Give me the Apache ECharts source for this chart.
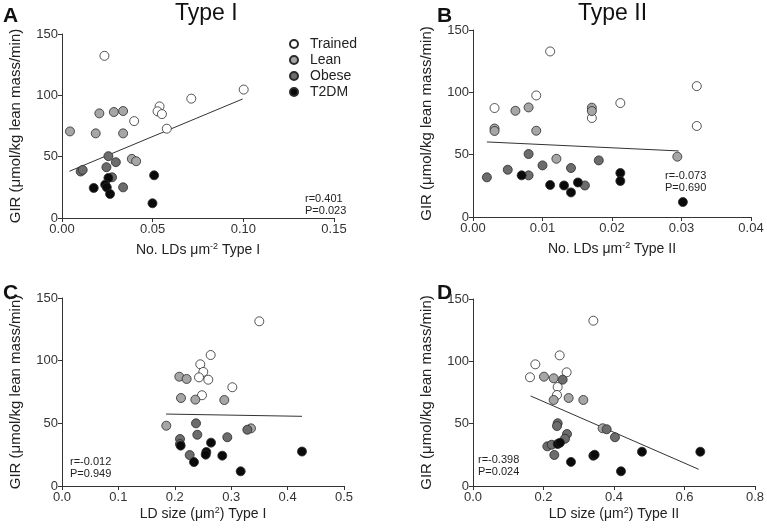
<!DOCTYPE html>
<html><head><meta charset="utf-8">
<script src="https://cdn.jsdelivr.net/npm/echarts@6/dist/echarts.min.js"></script>
<style>html,body{margin:0;padding:0;background:#fff}#c{width:767px;height:530px}</style>
</head><body><div id="c"></div>
<script>
// ---------- data ----------
const groups = ['Trained', 'Lean', 'Obese', 'T2DM'];
const yTicks = [0, 50, 100, 150];

// Panel A: No. LDs µm^-2 Type I vs GIR
const aTrained = [[0.0234,132.2],[0.1002,104.7],[0.0713,97.3],[0.0538,91],[0.0527,87],[0.0551,84.7],[0.0398,79],[0.0578,72.8]];
const aLean    = [[0.0044,70.6],[0.0206,85.3],[0.0286,86.4],[0.0337,87.2],[0.0186,69],[0.0337,69],[0.0385,48.2],[0.0409,46.3]];
const aObese   = [[0.0103,37.9],[0.0114,39.2],[0.0256,50.4],[0.0297,45.5],[0.0245,41.4],[0.0276,33.2],[0.0337,25]];
const aT2DM    = [[0.0175,24.5],[0.0256,32.7],[0.0238,27.2],[0.0247,25],[0.0265,19.6],[0.0508,34.8],[0.0499,12]];
const aFit     = [[0.0041,38.1],[0.0996,97]];

// Panel B: No. LDs µm^-2 Type II vs GIR
const bTrained = [[0.0031,87.4],[0.0091,97.5],[0.0111,132.8],[0.0171,79.4],[0.0212,91.4],[0.0322,105],[0.0322,73]];
const bLean    = [[0.0031,71],[0.0031,69],[0.0061,85.2],[0.008,87.9],[0.0091,69.2],[0.012,46.7],[0.0171,87.7],[0.0171,85],[0.0294,48.4]];
const bObese   = [[0.002,31.8],[0.005,37.9],[0.008,50.5],[0.008,33.4],[0.01,41.4],[0.0141,39.3],[0.0161,25.3],[0.0181,45.4]];
const bT2DM    = [[0.007,33.4],[0.0111,25.7],[0.0131,25.3],[0.0141,19.7],[0.0151,27.7],[0.0212,35.3],[0.0212,28.9],[0.0302,12]];
const bFit     = [[0.002,60.2],[0.0296,53.0]];

// Panel C: LD size Type I vs GIR
const cTrained = [[0.3498,131.4],[0.2636,104.5],[0.2452,97.1],[0.2505,91],[0.2429,86.7],[0.2594,84.8],[0.302,78.8],[0.2482,72.4]];
const cLean    = [[0.208,87.2],[0.221,85.4],[0.211,70.2],[0.2364,68.9],[0.2878,68.6],[0.1849,48.1],[0.3351,46]];
const cObese   = [[0.2376,50],[0.2399,40.9],[0.2092,37.5],[0.2092,33.5],[0.2931,38.9],[0.2264,24.7],[0.3286,44.9]];
const cT2DM    = [[0.2104,32.2],[0.2642,34.6],[0.2559,27.1],[0.2548,25],[0.2842,24.2],[0.234,19.1],[0.3168,11.7],[0.4255,27.5]];
const cFit     = [[0.1844,57.4],[0.4255,55.6]];

// Panel D: LD size Type II vs GIR
const dTrained = [[0.3414,132.6],[0.2459,104.8],[0.1768,97.6],[0.1617,87.2],[0.2657,91.2],[0.2402,79.4],[0.2383,73]];
const dLean    = [[0.2014,87.7],[0.2289,86.4],[0.2289,69],[0.2714,70.6],[0.313,69],[0.3678,46.3]];
const dObese   = [[0.2544,85.3],[0.2402,50.3],[0.2383,48.1],[0.2667,41.7],[0.261,37.9],[0.2109,31.8],[0.2232,33.1],[0.2307,24.9],[0.3792,45.5],[0.4028,39.1]];
const dT2DM    = [[0.2402,33.7],[0.2468,34.7],[0.278,19.3],[0.3414,24.3],[0.3452,25.1],[0.4199,11.8],[0.4794,27.5],[0.6449,27.5]];
const dFit     = [[0.1636,72.2],[0.6402,13.4]];

const xMax = [0.15, 0.04, 0.5, 0.8];
const xStep = [0.05, 0.01, 0.1, 0.2];
const xDecimals = [2, 2, 1, 1];
const xTitles = ['No. LDs \u03bcm{sup|-2} Type I', 'No. LDs \u03bcm{sup|-2} Type II', 'LD size (\u03bcm{sup|2}) Type I', 'LD size (\u03bcm{sup|2}) Type II'];
const yTitle = 'GIR (\u03bcmol/kg lean mass/min)';
const stats = [['r=0.401','P=0.023'],['r=-0.073','P=0.690'],['r=-0.012','P=0.949'],['r=-0.398','P=0.024']];
const panelLetters = ['A','B','C','D'];
const columnTitles = ['Type I','Type II'];

// ---------- chart ----------
const FONT = '"Liberation Sans", Arial, sans-serif';
const fills = {Trained:'#ffffff', Lean:'#a6a6a6', Obese:'#6c6c6c', T2DM:'#0a0a0a'};
const panelData = [
  [aTrained, aLean, aObese, aT2DM, aFit],
  [bTrained, bLean, bObese, bT2DM, bFit],
  [cTrained, cLean, cObese, cT2DM, cFit],
  [dTrained, dLean, dObese, dT2DM, dFit]
];
const grids = [
  {left:62, top:34, width:272, height:184},
  {left:473, top:30, width:278, height:187},
  {left:62, top:298, width:282, height:188},
  {left:473, top:299, width:282, height:187}
];
const yGap = [39, 39, 39, 39];
const xGap = [24, 24, 20, 20];

const xAxes = [], yAxes = [], series = [];
grids.forEach((g, i) => {
  xAxes.push({
    type:'value', gridIndex:i, min:0, max:xMax[i], interval:xStep[i],
    name: xTitles[i], nameLocation:'middle', nameGap:xGap[i],
    nameTextStyle:{fontFamily:FONT, fontSize:14, color:'#222',
      rich:{sup:{fontFamily:FONT, fontSize:9, color:'#222', verticalAlign:'top', padding:[0,0,8,0]}}},
    splitLine:{show:false},
    axisLine:{lineStyle:{color:'#333', width:1}},
    axisTick:{show:true, length:4, lineStyle:{color:'#333'}},
    axisLabel:{fontFamily:FONT, fontSize:13, color:'#333', margin:5,
      formatter: v => v.toFixed(xDecimals[i])}
  });
  yAxes.push({
    type:'value', gridIndex:i, min:0, max:150, interval:50,
    name: yTitle, nameLocation:'middle', nameGap:yGap[i], nameRotate:90,
    nameTextStyle:{fontFamily:FONT, fontSize:15, color:'#222'},
    splitLine:{show:false},
    axisLine:{show:true, lineStyle:{color:'#333', width:1}},
    axisTick:{show:true, length:4, lineStyle:{color:'#333'}},
    axisLabel:{fontFamily:FONT, fontSize:13, color:'#333', margin:4,
      formatter: v => yTicks.includes(v) ? String(v) : ''}
  });
  const d = panelData[i];
  series.push({
    type:'line', xAxisIndex:i, yAxisIndex:i, data:d[4], symbol:'none',
    lineStyle:{color:'#333', width:1}, z:1, silent:true
  });
  groups.forEach((gName, k) => {
    series.push({
      type:'scatter', name:gName, xAxisIndex:i, yAxisIndex:i, data:d[k],
      symbol:'circle', symbolSize:9, z:2 + k,
      itemStyle:{color:fills[gName], borderColor:'#2a2a2a', borderWidth:0.8, opacity:1}
    });
  });
});

const statPos = [[305,193],[665,170],[70,456],[478,454]];
const letterPos = [[3,6],[437,6],[3,283],[437,283]];
const graphics = [];
stats.forEach((s, i) => {
  graphics.push({type:'text', left:statPos[i][0], top:statPos[i][1],
    style:{text:s.join('\n'), font:'11px ' + FONT, fill:'#222', lineHeight:12}});
});
panelLetters.forEach((L, i) => {
  graphics.push({type:'text', left:letterPos[i][0], top:letterPos[i][1],
    style:{text:L, font:'bold 21px ' + FONT, fill:'#111'}});
});
const titlePos = [[175,2],[578,2]];
columnTitles.forEach((t, i) => {
  graphics.push({type:'text', left:titlePos[i][0], top:titlePos[i][1],
    style:{text:t, font:'23px ' + FONT, fill:'#111'}});
});

const chart = echarts.init(document.getElementById('c'), null, {renderer:'canvas'});
chart.setOption({
  animation:false,
  backgroundColor:'#fff',
  grid: grids,
  xAxis: xAxes,
  yAxis: yAxes,
  legend: {
    data: groups, orient:'vertical', left:284, top:32, itemWidth:8, itemHeight:8,
    itemGap:2, icon:'circle',
    textStyle:{fontFamily:FONT, fontSize:14, color:'#222', lineHeight:14, padding:[0,0,0,7]}
  },
  graphic: graphics,
  series: series
});
</script>
</body></html>
